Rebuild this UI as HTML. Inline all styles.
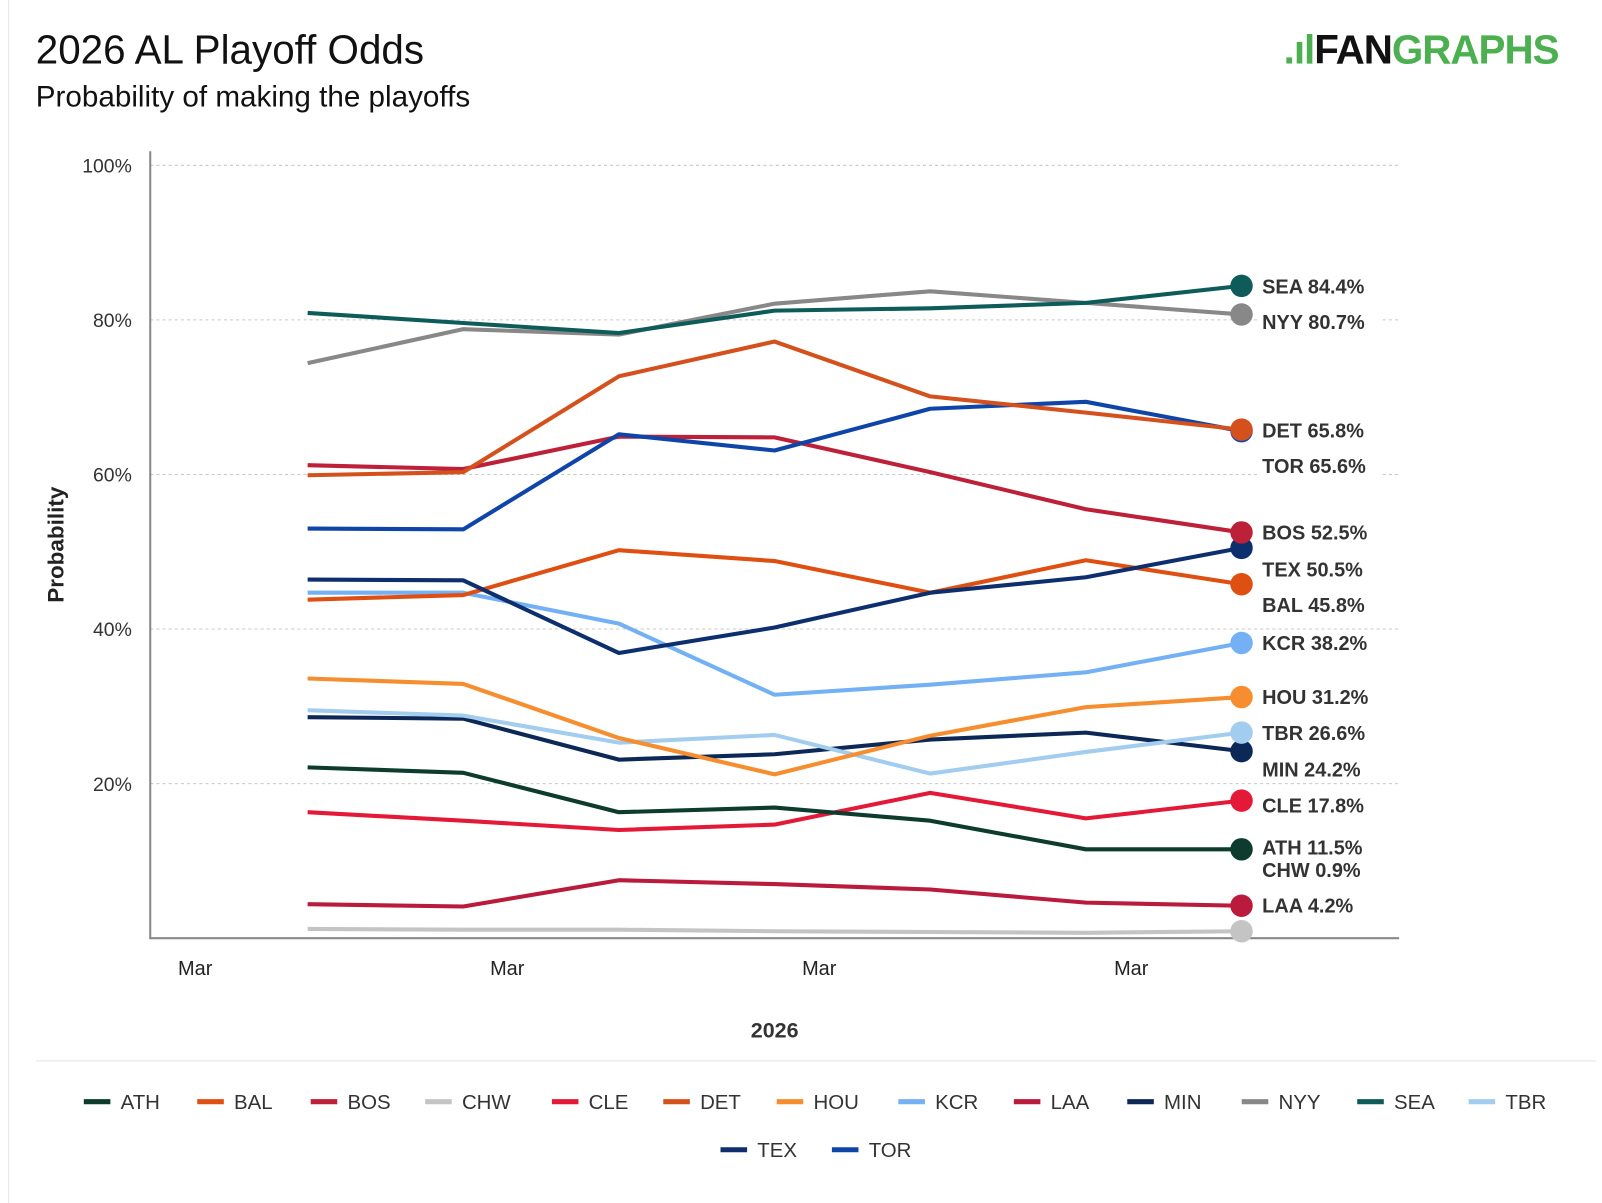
<!DOCTYPE html>
<html><head><meta charset="utf-8">
<style>
body{margin:0;width:1602px;height:1177px;background:#fff;font-family:"Liberation Sans",sans-serif;overflow:hidden;position:relative}
#wrap{position:absolute;left:0;top:0;width:1602px;height:1177px;transform:scale(1.022);transform-origin:0 0}
.t{position:absolute;color:#111}
</style></head><body>
<div id="wrap">
<div style="position:absolute;left:8px;top:0;width:1px;height:1177px;background:#e6e6e6"></div>
<div class="t" style="left:35px;top:27px;font-size:39.5px">2026 AL Playoff Odds</div>
<div class="t" style="left:35px;top:79px;font-size:29px">Probability of making the playoffs</div>
<div class="t" style="left:1256px;top:27px;font-size:39.5px;font-weight:bold;letter-spacing:-1px;white-space:nowrap"><span style="color:#4caf50">.ıl</span><span style="color:#111">FAN</span><span style="color:#4caf50">GRAPHS</span></div>
<svg id="c" width="1602" height="1177" style="position:absolute;left:0;top:0"></svg>
</div>
<script>
const teams=["ATH","BAL","BOS","CHW","CLE","DET","HOU","KCR","LAA","MIN","NYY","SEA","TBR","TEX","TOR"];
const colors=["#0d3b2e","#df4f12","#bd2139","#c4c4c4","#e31937","#d4501c","#f68d2e","#74b0f4","#ba1a3c","#0c2857","#888888","#0d5c5a","#a2cdee","#0e2f6e","#0f45a8"];
const ATH=[22.1,21.4,16.3,16.9,15.2,11.5,11.5];
const BAL=[43.8,44.4,50.2,48.8,44.7,48.9,45.8];
const BOS=[61.2,60.7,64.9,64.8,60.3,55.5,52.5];
const CHW=[1.2,1.1,1.1,0.9,0.8,0.7,0.9];
const CLE=[16.3,15.2,14.0,14.7,18.8,15.5,17.8];
const DET=[59.9,60.3,72.7,77.2,70.1,68.0,65.8];
const HOU=[33.6,32.9,25.9,21.2,26.2,29.9,31.2];
const KCR=[44.7,44.7,40.7,31.5,32.8,34.4,38.2];
const LAA=[4.4,4.1,7.5,7.0,6.3,4.6,4.2];
const MIN=[28.6,28.4,23.1,23.8,25.7,26.6,24.2];
const NYY=[74.4,78.8,78.1,82.1,83.7,82.2,80.7];
const SEA=[80.9,79.6,78.3,81.2,81.5,82.2,84.4];
const TBR=[29.5,28.8,25.3,26.3,21.3,24.1,26.6];
const TEX=[46.4,46.3,36.9,40.2,44.7,46.7,50.5];
const TOR=[53.0,52.9,65.2,63.1,68.5,69.4,65.6];
const series=[ATH,BAL,BOS,CHW,CLE,DET,HOU,KCR,LAA,MIN,NYY,SEA,TBR,TEX,TOR];
const yTicks=[20,40,60,80,100];
const xTickLabels=["Mar","Mar","Mar","Mar"];
const labelOrder=["SEA","NYY","DET","TOR","BOS","TEX","BAL","KCR","HOU","TBR","MIN","CLE","ATH","CHW","LAA"];
const labelY=[280,315,421,456,521,557,592,629,682,717,753,788,829,851,886];
const drawOrder=["CHW","LAA","CLE","ATH","MIN","TBR","HOU","KCR","BAL","TEX","BOS","TOR","DET","NYY","SEA"];

const svg=document.getElementById('c');const NS="http://www.w3.org/2000/svg";
const X=i=>301+i*152.3;
const Y=v=>918-v*7.5625;
function mk(t,a,p){const e=document.createElementNS(NS,t);for(const k in a)e.setAttribute(k,a[k]);(p||svg).appendChild(e);return e;}
yTicks.forEach(v=>{
 const g=mk('line',{x1:147,x2:1368,y1:Y(v),y2:Y(v),stroke:'#c8c8c8','stroke-dasharray':'3,3'});
 
 
 const t=mk('text',{x:129,y:Y(v)+7,'text-anchor':'end','font-size':19,fill:'#333','font-family':'Liberation Sans'});
 t.textContent=v+'%';
 
 
});
const ax=mk('line',{x1:147,x2:147,y1:148,y2:918,stroke:'#888','stroke-width':2});


const bx=mk('line',{x1:146,x2:1369,y1:918,y2:918,stroke:'#888','stroke-width':2});


xTickLabels.forEach((l,i)=>{
 const t=mk('text',{x:191+i*305.3,y:954,'text-anchor':'middle','font-size':19.5,fill:'#222','font-family':'Liberation Sans'});
 t.textContent=l;
 
 
});
const xt=mk('text',{x:758,y:1015,'text-anchor':'middle','font-size':21,'font-weight':'bold',fill:'#333','font-family':'Liberation Sans'});
xt.textContent='2026';


const yt=mk('text',{x:0,y:0,transform:'translate(62,533) rotate(-90)','text-anchor':'middle','font-size':22,'font-weight':'bold',fill:'#222','font-family':'Liberation Sans'});
yt.textContent='Probability';


drawOrder.forEach(tm=>{
 const i=teams.indexOf(tm);const d=series[i];
 const pl=mk('polyline',{points:d.map((v,j)=>X(j)+','+Y(v)).join(' '),fill:'none',stroke:colors[i],'stroke-width':4,'stroke-linejoin':'round'});
 
 
 const c=mk('circle',{cx:X(6),cy:Y(d[6]),r:11,fill:colors[i]});
 
 
});
labelOrder.forEach((tm,k)=>{
 const i=teams.indexOf(tm);
 const r=mk('rect',{x:1232,y:labelY[k]-13,width:118,height:26,fill:'#fff'});
 
 
 const t=mk('text',{x:1235,y:labelY[k]+7,'font-size':19.5,'font-weight':'bold',fill:'#333','font-family':'Liberation Sans'});
 t.textContent=tm+' '+series[i][6].toFixed(1)+'%';
 
 
});
const sep=mk('line',{x1:35,x2:1562,y1:1038,y2:1038,stroke:'#e3e3e3'});


const lx=[82,193,304,416,540,649,760,879,992,1103,1215,1328,1437,705,814];
teams.forEach((tm,i)=>{
 const y=i<13?1078:1125;
 const g=mk('g',{});
 
 
 mk('line',{x1:lx[i],x2:lx[i]+26,y1:y,y2:y,stroke:colors[i],'stroke-width':5},g);
 const t=mk('text',{x:lx[i]+36,y:y+7,'font-size':20,fill:'#333','font-family':'Liberation Sans'},g);
 t.textContent=tm;
});
</script>
</body></html>
